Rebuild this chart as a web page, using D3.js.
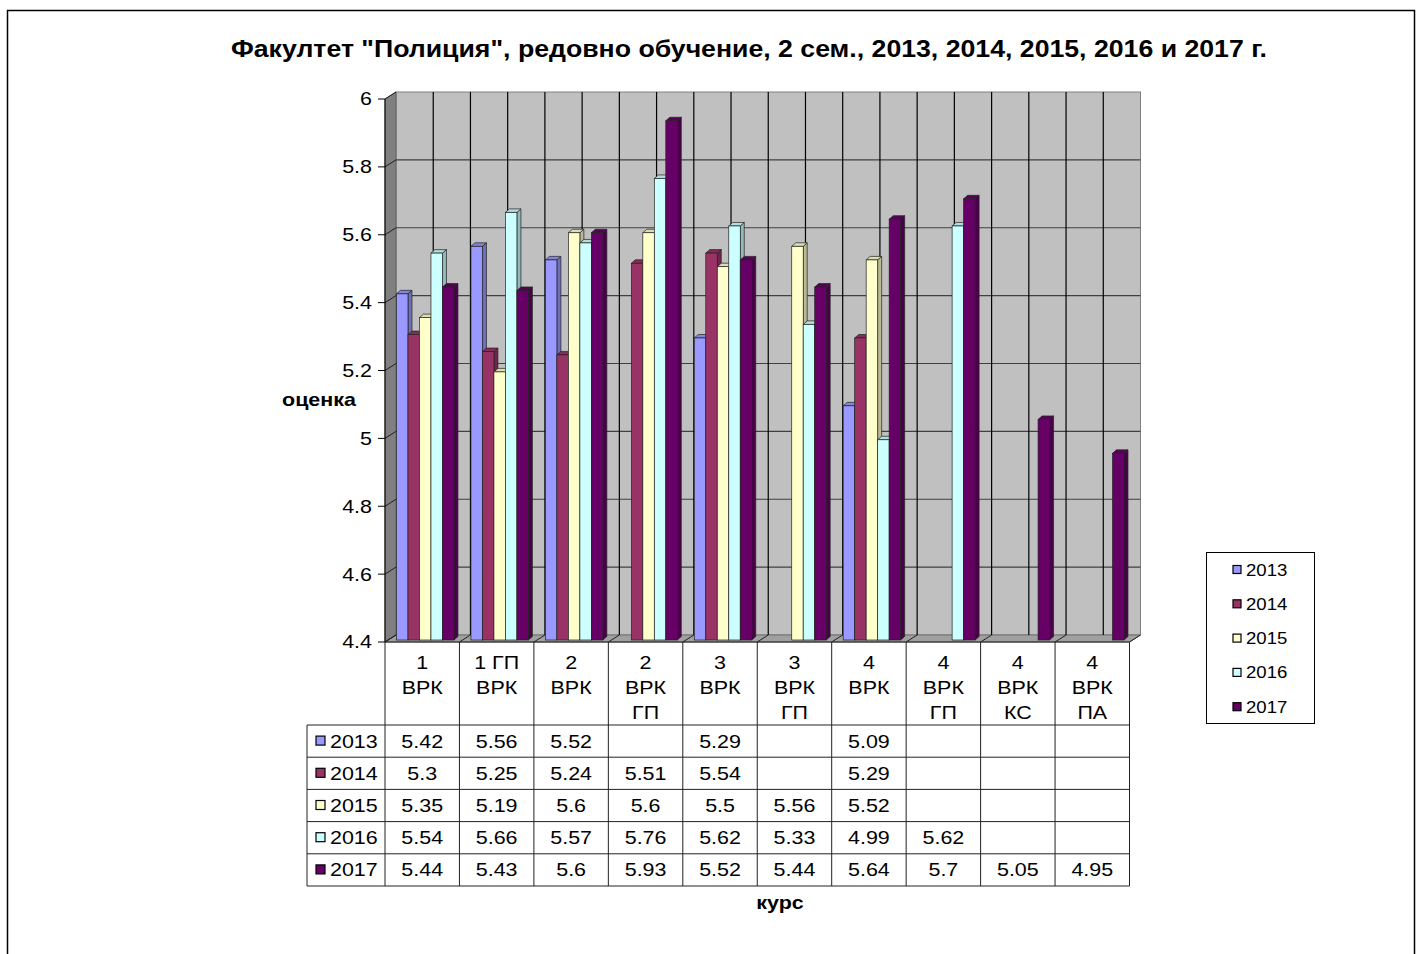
<!DOCTYPE html>
<html>
<head>
<meta charset="utf-8">
<script src="https://cdn.jsdelivr.net/npm/d3@7"></script>
<style>
  body { margin: 0; background: #fff; }
  svg  { display: block; font-family: Arial, "Liberation Sans", sans-serif; }
</style>
</head>
<body>
<svg id="chart" width="1422" height="954"></svg>
<script>
/* ---------- data ------------------------------------------ */
const categories = ['1 ВРК','1 ГП ВРК','2 ВРК','2 ВРК ГП','3 ВРК','3 ВРК ГП','4 ВРК','4 ВРК ГП','4 ВРК КС','4 ВРК ПА'];
const catLines   = [['1','ВРК'],['1 ГП','ВРК'],['2','ВРК'],['2','ВРК','ГП'],['3','ВРК'],
                    ['3','ВРК','ГП'],['4','ВРК'],['4','ВРК','ГП'],['4','ВРК','КС'],['4','ВРК','ПА']];
const years  = ['2013','2014','2015','2016','2017'];
const v2013  = [5.42, 5.56, 5.52, null, 5.29, null, 5.09, null, null, null];
const v2014  = [5.3,  5.25, 5.24, 5.51, 5.54, null, 5.29, null, null, null];
const v2015  = [5.35, 5.19, 5.6,  5.6,  5.5,  5.56, 5.52, null, null, null];
const v2016  = [5.54, 5.66, 5.57, 5.76, 5.62, 5.33, 4.99, 5.62, null, null];
const v2017  = [5.44, 5.43, 5.6,  5.93, 5.52, 5.44, 5.64, 5.7,  5.05, 4.95];
const yTicks = [4.4, 4.6, 4.8, 5, 5.2, 5.4, 5.6, 5.8, 6];

const series = [v2013, v2014, v2015, v2016, v2017];
const colors = ['#9999ff','#993366','#ffffcc','#ccffff','#660066'];

/* ---------- layout ---------------------------------------- */
const svg = d3.select('#chart');
const SX  = 1.16;            // glyphs in the original are slightly wide
const DX = 11, DY = -7;      // depth of the 3D box
const BX = 4,  BY = -3.5;    // depth of each bar
const bOff = [3, -2];        // bars sit a bit behind the front plane

const x = d3.scaleBand().domain(categories).range([385, 1129.5]);
const y = d3.scaleLinear().domain([4.4, 6]).range([642, 99]);
const xb = d3.scaleBand().domain(years).range([8.5, x.bandwidth() - 8.5]);

const txt = (sel, px, py, s, o = {}) => sel.append('text')
  .attr('transform', `translate(${px},${py}) scale(${SX},1)`)
  .attr('text-anchor', o.anchor || 'middle')
  .attr('dominant-baseline', 'central')
  .style('font-size', (o.size || 18.5) + 'px')
  .style('font-weight', o.weight || 'normal')
  .style('fill', '#000')
  .text(s);

/* outer frame */
svg.append('rect').attr('x', 7.5).attr('y', 10.5).attr('width', 1407).attr('height', 960)
  .attr('fill', 'none').attr('stroke', '#000').attr('stroke-width', 1.5);

/* title & axis titles */
txt(svg, 749, 49, 'Факултет "Полиция", редовно обучение, 2 сем., 2013, 2014, 2015, 2016 и 2017 г.',
    {size: 23, weight: 'bold'});
txt(svg, 319, 400, 'оценка', {size: 18.5, weight: 'bold'});
txt(svg, 780, 903, 'курс', {size: 18.5, weight: 'bold'});

/* ---------- 3D box: walls & floor ------------------------- */
const x0 = x.range()[0], x1 = x.range()[1];
const yb = y(4.4), yt = y(6);
const box = svg.append('g');

box.append('rect').attr('x', x0 + DX).attr('y', yt + DY)
  .attr('width', x1 - x0).attr('height', yb - yt)
  .attr('fill', '#c0c0c0').attr('stroke', '#808080');

box.append('polygon')
  .attr('points', [[x0, yt], [x0 + DX, yt + DY], [x0 + DX, yb + DY], [x0, yb]].join(' '))
  .attr('fill', '#808080').attr('stroke', '#606060');

box.append('polygon')
  .attr('points', [[x0, yb], [x0 + DX, yb + DY], [x1 + DX, yb + DY], [x1, yb]].join(' '))
  .attr('fill', '#a0a0a0').attr('stroke', '#707070');

/* back-wall gridlines */
box.selectAll('.hg').data(yTicks.slice(1, -1)).enter().append('line')
  .attr('x1', x0 + DX).attr('x2', x1 + DX)
  .attr('y1', d => y(d) + DY).attr('y2', d => y(d) + DY)
  .attr('stroke', '#404040').attr('stroke-width', 1.2);

const halfSteps = d3.range(1, categories.length * 2);
box.selectAll('.vg').data(halfSteps).enter().append('line')
  .attr('x1', d => x0 + DX + d * x.bandwidth() / 2)
  .attr('x2', d => x0 + DX + d * x.bandwidth() / 2)
  .attr('y1', yt + DY).attr('y2', yb + DY)
  .attr('stroke', '#000').attr('stroke-width', 1.2);

/* slanted guides on left wall and floor */
box.selectAll('.lw').data(yTicks).enter().append('line')
  .attr('x1', x0).attr('y1', d => y(d))
  .attr('x2', x0 + DX).attr('y2', d => y(d) + DY)
  .attr('stroke', '#202020');

box.selectAll('.fl').data(d3.range(categories.length + 1)).enter().append('line')
  .attr('x1', d => x0 + d * x.bandwidth()).attr('y1', yb)
  .attr('x2', d => x0 + d * x.bandwidth() + DX).attr('y2', yb + DY)
  .attr('stroke', '#202020');

/* ---------- bars ------------------------------------------ */
const barsG = svg.append('g');
const bars = [];
categories.forEach((c, ci) => {
  years.forEach((yr, si) => {
    const v = series[si][ci];
    if (v == null) return;
    bars.push({c, si, v});
  });
});

bars.forEach(d => {
  const bx0 = x(d.c) + xb(years[d.si]) + bOff[0];
  const bx1 = bx0 + xb.bandwidth();
  const ytop = y(d.v) + bOff[1];
  const ybot = y(4.4) + bOff[1];
  const col = d3.color(colors[d.si]);
  const g = barsG.append('g');
  g.append('polygon')        // side
    .attr('points', [[bx1, ytop], [bx1 + BX, ytop + BY], [bx1 + BX, ybot + BY], [bx1, ybot]].join(' '))
    .attr('fill', col.darker(0.9)).attr('stroke', '#222').attr('stroke-width', 0.7);
  g.append('polygon')        // top
    .attr('points', [[bx0, ytop], [bx0 + BX, ytop + BY], [bx1 + BX, ytop + BY], [bx1, ytop]].join(' '))
    .attr('fill', col.darker(0.4)).attr('stroke', '#222').attr('stroke-width', 0.7);
  g.append('rect')           // front
    .attr('x', bx0).attr('y', ytop).attr('width', bx1 - bx0).attr('height', ybot - ytop)
    .attr('fill', col).attr('stroke', '#222').attr('stroke-width', 0.7);
});

/* ---------- y axis ---------------------------------------- */
const ax = svg.append('g');
ax.append('line').attr('x1', x0).attr('x2', x0).attr('y1', yt).attr('y2', yb).attr('stroke', '#000');
yTicks.forEach(t => {
  ax.append('line').attr('x1', x0 - 7).attr('x2', x0).attr('y1', y(t)).attr('y2', y(t)).attr('stroke', '#000');
  txt(ax, 372, y(t), d3.format('~g')(t), {anchor: 'end'});
});

/* ---------- data table ------------------------------------ */
const tb = svg.append('g');
const headTop = yb, headBot = 725, rowH = 32.2;
const rowY = d3.range(years.length + 1).map(i => headBot + i * rowH);
const tLeft = 307;

rowY.forEach(ry => tb.append('line').attr('x1', tLeft).attr('x2', x1)
  .attr('y1', ry).attr('y2', ry).attr('stroke', '#222'));
tb.append('line').attr('x1', x0).attr('x2', x1).attr('y1', headTop).attr('y2', headTop).attr('stroke', '#222');
tb.append('line').attr('x1', tLeft).attr('x2', tLeft).attr('y1', headBot).attr('y2', rowY[years.length]).attr('stroke', '#222');
d3.range(categories.length + 1).forEach(i => {
  const lx = x0 + i * x.bandwidth();
  tb.append('line').attr('x1', lx).attr('x2', lx).attr('y1', headTop).attr('y2', rowY[years.length]).attr('stroke', '#222');
});

categories.forEach((c, ci) => {
  catLines[ci].forEach((ln, li) => txt(tb, x(c) + x.bandwidth() / 2, 663 + li * 25, ln));
});

years.forEach((yr, si) => {
  const cy = rowY[si] + rowH / 2;
  tb.append('rect').attr('x', 316).attr('y', cy - 5).attr('width', 9).attr('height', 9)
    .attr('fill', colors[si]).attr('stroke', '#000').attr('stroke-width', 1.2);
  txt(tb, 330, cy, yr, {anchor: 'start'});
  categories.forEach((c, ci) => {
    const v = series[si][ci];
    if (v == null) return;
    txt(tb, x(c) + x.bandwidth() / 2, cy, String(v));
  });
});

/* ---------- legend ---------------------------------------- */
const lg = svg.append('g');
lg.append('rect').attr('x', 1206.5).attr('y', 552.5).attr('width', 108).attr('height', 171)
  .attr('fill', '#fff').attr('stroke', '#000');
years.forEach((yr, i) => {
  const cy = 570 + i * 34.3;
  lg.append('rect').attr('x', 1233).attr('y', cy - 4.5).attr('width', 8).attr('height', 8)
    .attr('fill', colors[i]).attr('stroke', '#000').attr('stroke-width', 1.2);
  txt(lg, 1246, cy, yr, {anchor: 'start', size: 16});
});
</script>
</body>
</html>
